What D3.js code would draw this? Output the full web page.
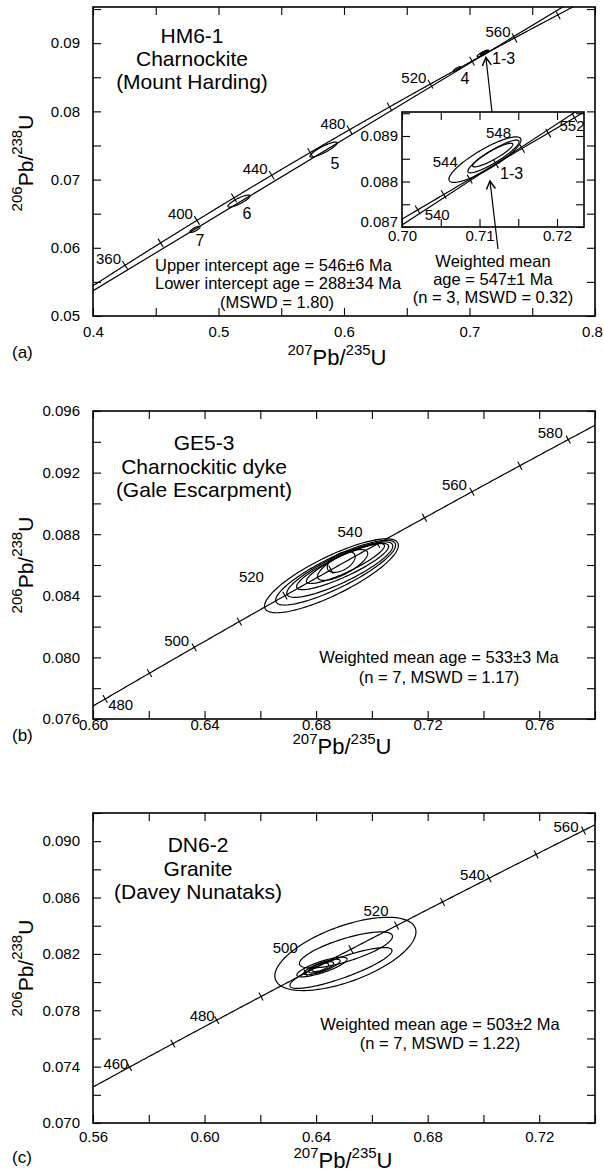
<!DOCTYPE html>
<meta charset="utf-8">
<script src="https://d3js.org/d3.v7.min.js"></script>
<style>
  body { margin: 0; background: #fff; }
</style>
<svg id="chart" width="604" height="1173"></svg>
<script>
// U-Pb decay constants (1/yr)
const L238 = 1.55125e-10, L235 = 9.8485e-10;

// ---- (a) HM6-1 ----
const aXMajor = [0.4, 0.5, 0.6, 0.7, 0.8];
const aYMajor = [0.05, 0.06, 0.07, 0.08, 0.09];
const aTickAges = [340, 360, 380, 400, 420, 440, 460, 480, 500, 520, 540, 560, 580, 600];
const aLabelAges = [360, 400, 440, 480, 520, 560];
const aIntercepts = [288, 546];
const aEllName = ["1-3", "1-3", "1-3", "4", "5", "6", "7"];
const aEllX = [0.7107, 0.7118, 0.7117, 0.6900, 0.5837, 0.5163, 0.4813];
const aEllY = [0.08848, 0.08855, 0.08858, 0.08620, 0.07440, 0.06685, 0.06270];
const aEllSx = [0.00465, 0.0033, 0.0026, 0.0030, 0.0108, 0.0088, 0.0040];
const aEllSy = [0.00050, 0.00036, 0.00026, 0.00035, 0.00110, 0.00088, 0.00045];
const aEllRho = [0.86, 0.9, 0.9, 0.85, 0.88, 0.85, 0.8];
// inset
const insetXMajor = [0.70, 0.71, 0.72];
const insetYMajor = [0.087, 0.088, 0.089];
const insetTickAges = [536, 538, 540, 542, 544, 546, 548, 550, 552, 554, 556];
const insetLabelAges = [540, 544, 548, 552];

// ---- (b) GE5-3 ----
const bXMajor = [0.60, 0.64, 0.68, 0.72, 0.76];
const bYMajor = [0.076, 0.080, 0.084, 0.088, 0.092, 0.096];
const bTickAges = [470, 480, 490, 500, 510, 520, 530, 540, 550, 560, 570, 580, 590];
const bLabelAges = [480, 500, 520, 540, 560, 580];
const bEllX = [0.6855, 0.6870, 0.6885, 0.6895, 0.6905, 0.6895, 0.6890];
const bEllY = [0.0853, 0.0855, 0.0857, 0.0859, 0.0861, 0.0860, 0.0862];
const bEllSx = [0.0240, 0.0215, 0.0190, 0.0165, 0.0140, 0.0090, 0.0050];
const bEllSy = [0.0024, 0.0021, 0.0018, 0.0015, 0.0013, 0.0010, 0.00068];
const bEllRho = [0.82, 0.85, 0.85, 0.87, 0.88, 0.75, 0.5];

// ---- (c) DN6-2 ----
const cXMajor = [0.56, 0.60, 0.64, 0.68, 0.72];
const cYMajor = [0.070, 0.074, 0.078, 0.082, 0.086, 0.090];
const cTickAges = [450, 460, 470, 480, 490, 500, 510, 520, 530, 540, 550, 560, 570];
const cLabelAges = [460, 480, 500, 520, 540, 560];
const cEllX = [0.6505, 0.6489, 0.6507, 0.6421, 0.6421, 0.6418, 0.6415];
const cEllY = [0.0820, 0.0810, 0.08228, 0.08107, 0.08107, 0.08105, 0.08105];
const cEllSx = [0.0253, 0.0183, 0.0167, 0.0090, 0.0065, 0.0045, 0.0030];
const cEllSy = [0.0026, 0.00145, 0.00128, 0.00070, 0.00055, 0.00040, 0.00030];
const cEllRho = [0.6, 0.85, 0.75, 0.8, 0.8, 0.7, 0.6];

const FONT = '"Liberation Sans", Arial, Helvetica, sans-serif';
const svg = d3.select("#chart").attr("font-family", FONT);

const conc = t => [Math.expm1(L235 * t * 1e6), Math.expm1(L238 * t * 1e6)];
const isMaj = (v, arr) => arr.some(m => Math.abs(m - v) < 1e-9);
const steps = (a, b, s) => d3.range(0, Math.round((b - a) / s + 1e-6) + 1).map(i => +(a + i * s).toFixed(5));

function scales(p) {
  return [d3.scaleLinear().domain(p.xDom).range([p.left, p.right]),
          d3.scaleLinear().domain(p.yDom).range([p.bottom, p.top])];
}

function axes(g, x, y, o) {
  const fs = o.fs || 15;
  const style = s => s.attr("font-size", fs).attr("font-family", FONT)
    .call(s => s.select(".domain").remove())
    .call(s => s.selectAll("line").attr("stroke-width", 1.1));
  const bottom = g.append("g").attr("transform", `translate(0,${y.range()[0]})`)
    .call(d3.axisBottom(x).tickValues(o.xTicks).tickSize(-o.tick).tickPadding(o.xPad)
      .tickFormat(v => isMaj(v, o.xMajor) ? o.fx(v) : "")).call(style);
  g.append("g").attr("transform", `translate(0,${y.range()[1]})`)
    .call(d3.axisTop(x).tickValues(o.xTicks).tickSize(-o.tick).tickFormat("")).call(style);
  const left = g.append("g").attr("transform", `translate(${x.range()[0]},0)`)
    .call(d3.axisLeft(y).tickValues(o.yTicks).tickSize(-o.tick).tickPadding(o.yPad)
      .tickFormat(v => isMaj(v, o.yMajor) ? o.fy(v) : "")).call(style);
  g.append("g").attr("transform", `translate(${x.range()[1]},0)`)
    .call(d3.axisRight(y).tickValues(o.yTicks).tickSize(-o.tick).tickFormat("")).call(style);
  g.append("rect").attr("x", x.range()[0]).attr("y", y.range()[1])
    .attr("width", x.range()[1] - x.range()[0]).attr("height", y.range()[0] - y.range()[1])
    .attr("fill", "none").attr("stroke", "#000").attr("stroke-width", 1.6);
  return { bottom, left };
}

function clipFor(id, p) {
  svg.append("clipPath").attr("id", id).append("rect")
    .attr("x", p.left).attr("y", p.top).attr("width", p.right - p.left).attr("height", p.bottom - p.top);
}

function concordia(g, x, y, t0, t1) {
  const pts = d3.range(t0, t1, 0.5).map(t => { const c = conc(t); return [x(c[0]), y(c[1])]; });
  g.append("path").attr("d", d3.line()(pts)).attr("fill", "none").attr("stroke", "#000").attr("stroke-width", 1.2);
}

function ageTicks(g, x, y, ages, half) {
  ages.forEach(t => {
    const c = conc(t);
    const dx = (x(c[0] + L235 * 1e6 * (1 + c[0])) - x(c[0]));
    const dy = (y(c[1] + L238 * 1e6 * (1 + c[1])) - y(c[1]));
    const n = Math.hypot(dx, dy), px = -dy / n * half, py = dx / n * half;
    g.append("line").attr("x1", x(c[0]) - px).attr("y1", y(c[1]) - py)
      .attr("x2", x(c[0]) + px).attr("y2", y(c[1]) + py).attr("stroke", "#000").attr("stroke-width", 1.1);
  });
}

function ageLabels(g, x, y, ages, place, fs) {
  ages.forEach(t => {
    const c = conc(t), p = place[t] || [-4, -1, "end"];
    g.append("text").attr("x", x(c[0]) + p[0]).attr("y", y(c[1]) + p[1])
      .attr("text-anchor", p[2]).attr("font-size", fs || 15).text(t);
  });
}

function ellipses(g, x, y, ex, ey, sx, sy, rho) {
  ex.forEach((cx, i) => {
    const r = rho[i], k = Math.sqrt(1 - r * r);
    const pts = d3.range(0, 2 * Math.PI, Math.PI / 72).map(a =>
      [x(cx + sx[i] * Math.cos(a)), y(ey[i] + sy[i] * (r * Math.cos(a) + k * Math.sin(a)))]);
    g.append("path").attr("d", d3.line().curve(d3.curveLinearClosed)(pts))
      .attr("fill", "none").attr("stroke", "#000").attr("stroke-width", 1.2);
  });
}

function text(lines, x, anchor, fs) {
  lines.forEach(l => svg.append("text").attr("x", x)
    .attr("y", l[1]).attr("text-anchor", anchor).attr("font-size", fs).text(l[0]));
}

function yTitle(cy) {
  const t = svg.append("text").attr("transform", `translate(33,${cy}) rotate(-90)`).attr("text-anchor", "middle");
  t.append("tspan").attr("font-size", 15).attr("dy", -11).text("206");
  t.append("tspan").attr("font-size", 21).attr("dy", 11).text("Pb/");
  t.append("tspan").attr("font-size", 15).attr("dy", -11).text("238");
  t.append("tspan").attr("font-size", 21).attr("dy", 11).text("U");
}
function xTitle(cx, by) {
  const t = svg.append("text").attr("x", cx).attr("y", by).attr("text-anchor", "middle");
  t.append("tspan").attr("font-size", 15).attr("dy", -10).text("207");
  t.append("tspan").attr("font-size", 22).attr("dy", 10).text("Pb/");
  t.append("tspan").attr("font-size", 15).attr("dy", -10).text("235");
  t.append("tspan").attr("font-size", 22).attr("dy", 10).text("U");
}

const defs = svg.append("defs");
defs.append("marker").attr("id", "arr").attr("viewBox", "-10 -6 12 12").attr("refX", 0).attr("refY", 0)
  .attr("markerWidth", 12).attr("markerHeight", 12).attr("markerUnits", "userSpaceOnUse").attr("orient", "auto")
  .append("path").attr("d", "M-8,-4.5L0,0L-8,4.5").attr("fill", "none").attr("stroke", "#000").attr("stroke-width", 1.5);

// ================= Panel (a) =================
const A = { left: 93, right: 595, top: 7, bottom: 316, xDom: [0.4, 0.8], yDom: [0.05, 0.0953] };
const [xa, ya] = scales(A);
clipFor("clipA", A);
const ga = svg.append("g").attr("clip-path", "url(#clipA)");
concordia(ga, xa, ya, 250, 650);
const i0 = conc(aIntercepts[0]), i1 = conc(aIntercepts[1]);
const slope = (i1[1] - i0[1]) / (i1[0] - i0[0]);
const disc = (g, x, y) => g.append("line")
  .attr("x1", x(0.3)).attr("y1", y(i0[1] + slope * (0.3 - i0[0])))
  .attr("x2", x(0.9)).attr("y2", y(i0[1] + slope * (0.9 - i0[0])))
  .attr("stroke", "#000").attr("stroke-width", 1.2);
disc(ga, xa, ya);
ageTicks(ga, xa, ya, aTickAges, 5);
ellipses(ga, xa, ya, aEllX, aEllY, aEllSx, aEllSy, aEllRho);
ageLabels(svg, xa, ya, aLabelAges, {}, 15);
const axA = axes(svg, xa, ya, {
  xTicks: steps(0.4, 0.8, 0.05), xMajor: aXMajor, fx: d3.format(".1f"), xPad: 10,
  yTicks: steps(0.05, 0.095, 0.005), yMajor: aYMajor, fy: d3.format(".2f"), yPad: 13, tick: 8
});
// last x label sits against the page edge
axA.bottom.selectAll("text").filter(d => Math.abs(d - 0.8) < 1e-9).attr("dx", -3);
// point labels
const aLab = { "4": [465, 84], "5": [335, 169], "6": [247, 219], "7": [200, 246] };
aEllName.forEach(n => { if (aLab[n]) svg.append("text").attr("x", aLab[n][0]).attr("y", aLab[n][1])
  .attr("text-anchor", "middle").attr("font-size", 16).text(n); });
svg.append("text").attr("x", 492).attr("y", 64).attr("font-size", 16).text("1-3");

// inset
const I = { left: 402, right: 584, top: 112, bottom: 227, xDom: [0.70, 0.72348], yDom: [0.087, 0.089527] };
const [xi, yi] = scales(I);
svg.append("rect").attr("x", I.left).attr("y", I.top).attr("width", I.right - I.left)
  .attr("height", I.bottom - I.top).attr("fill", "#fff");
clipFor("clipI", I);
const gi = svg.append("g").attr("clip-path", "url(#clipI)");
concordia(gi, xi, yi, 520, 570);
disc(gi, xi, yi);
ageTicks(gi, xi, yi, insetTickAges, 5);
ellipses(gi, xi, yi, aEllX.slice(0, 3), aEllY.slice(0, 3), aEllSx.slice(0, 3), aEllSy.slice(0, 3), aEllRho.slice(0, 3));
ageLabels(svg, xi, yi, insetLabelAges, {
  540: [7, 10.5, "start"], 544: [-12, -12.5, "end"], 548: [-11, -10.5, "end"], 552: [10, 13.5, "end"]
}, 15);
const axI = axes(svg, xi, yi, {
  xTicks: steps(0.70, 0.72, 0.005), xMajor: insetXMajor, fx: d3.format(".2f"), xPad: 3,
  yTicks: steps(0.087, 0.0895, 0.0005), yMajor: insetYMajor, fy: d3.format(".3f"), yPad: 4, tick: 8
});
axI.left.selectAll("text").filter(d => Math.abs(d - 0.087) < 1e-9).attr("dy", "-0.05em");
svg.append("text").attr("x", 500).attr("y", 179).attr("font-size", 16).text("1-3");
// arrows
svg.append("line").attr("x1", 492).attr("y1", I.top).attr("x2", xa(0.7131)).attr("y2", ya(0.0879))
  .attr("stroke", "#000").attr("stroke-width", 1.2).attr("marker-end", "url(#arr)");
svg.append("line").attr("x1", 498).attr("y1", 249).attr("x2", xi(0.71135)).attr("y2", yi(0.08801))
  .attr("stroke", "#000").attr("stroke-width", 1.2).attr("marker-end", "url(#arr)");

text([["HM6-1", 43], ["Charnockite", 66], ["(Mount Harding)", 89]], 192, "middle", 21);
text([["Upper intercept age = 546\u00b16 Ma", 271], ["Lower intercept age = 288\u00b134 Ma", 289]], 155, "start", 16.5);
text([["(MSWD = 1.80)", 308]], 277, "middle", 16.5);
text([["Weighted mean", 267], ["age = 547\u00b11 Ma", 285], ["(n = 3, MSWD = 0.32)", 303]], 493, "middle", 16.5);
svg.append("text").attr("x", 12).attr("y", 358).attr("font-size", 17).text("(a)");
yTitle(163);
xTitle(337, 365);

// ================= Panel (b) =================
const B = { left: 93, right: 595, top: 411, bottom: 719, xDom: [0.60, 0.78], yDom: [0.076, 0.096] };
const [xb, yb] = scales(B);
clipFor("clipB", B);
const gb = svg.append("g").attr("clip-path", "url(#clipB)");
concordia(gb, xb, yb, 450, 620);
ageTicks(gb, xb, yb, bTickAges, 4.5);
ellipses(gb, xb, yb, bEllX, bEllY, bEllSx, bEllSy, bEllRho);
ageLabels(svg, xb, yb, bLabelAges, {
  480: [3, 11.5, "start"], 500: [-5, -1.5, "end"], 520: [-21, -13.5, "end"],
  540: [-15, -6.5, "end"], 560: [-5, -1.5, "end"], 580: [-5.5, -1.2, "end"]
}, 15);
axes(svg, xb, yb, {
  xTicks: steps(0.60, 0.78, 0.02), xMajor: bXMajor, fx: d3.format(".2f"), xPad: 0,
  yTicks: steps(0.076, 0.096, 0.002), yMajor: bYMajor, fy: d3.format(".3f"), yPad: 13, tick: 8
});
text([["GE5-3", 450], ["Charnockitic dyke", 474], ["(Gale Escarpment)", 497]], 204, "middle", 21);
text([["Weighted mean age = 533\u00b13 Ma", 663], ["(n = 7, MSWD = 1.17)", 683]], 439, "middle", 16.5);
svg.append("text").attr("x", 12).attr("y", 741).attr("font-size", 17).text("(b)");
yTitle(565);
xTitle(342, 754);

// ================= Panel (c) =================
const C = { left: 93, right: 595, top: 813, bottom: 1123, xDom: [0.56, 0.74], yDom: [0.070, 0.092] };
const [xc, yc] = scales(C);
clipFor("clipC", C);
const gc = svg.append("g").attr("clip-path", "url(#clipC)");
concordia(gc, xc, yc, 430, 600);
ageTicks(gc, xc, yc, cTickAges, 4.5);
ellipses(gc, xc, yc, cEllX, cEllY, cEllSx, cEllSy, cEllRho);
ageLabels(svg, xc, yc, cLabelAges, {
  460: [-1, 1.5, "end"], 480: [-2, 0.5, "end"], 500: [-8, -19.5, "end"],
  520: [-8, -9.5, "end"], 540: [-4, 1.5, "end"], 560: [-5, 1, "end"]
}, 15);
axes(svg, xc, yc, {
  xTicks: steps(0.56, 0.74, 0.02), xMajor: cXMajor, fx: d3.format(".2f"), xPad: 8,
  yTicks: steps(0.070, 0.092, 0.002), yMajor: cYMajor, fy: d3.format(".3f"), yPad: 13, tick: 8
});
text([["DN6-2", 852], ["Granite", 876], ["(Davey Nunataks)", 899]], 198, "middle", 21);
text([["Weighted mean age = 503\u00b12 Ma", 1030], ["(n = 7, MSWD = 1.22)", 1049]], 440, "middle", 16.5);
svg.append("text").attr("x", 12).attr("y", 1163).attr("font-size", 17).text("(c)");
yTitle(968);
xTitle(343, 1168);
</script>
